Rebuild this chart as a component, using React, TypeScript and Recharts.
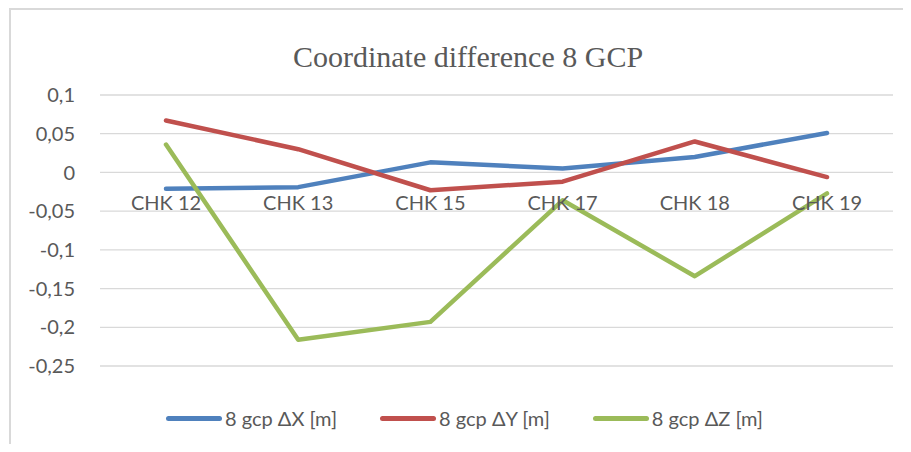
import React from 'react';
import {
  LineChart,
  Line,
  XAxis,
  YAxis,
  CartesianGrid,
  Legend,
} from 'recharts';

const categories = ['CHK 12', 'CHK 13', 'CHK 15', 'CHK 17', 'CHK 18', 'CHK 19'];
const deltaX = [-0.021, -0.019, 0.013, 0.005, 0.02, 0.051];
const deltaY = [0.067, 0.03, -0.023, -0.012, 0.04, -0.006];
const deltaZ = [0.036, -0.216, -0.193, -0.036, -0.134, -0.027];
const yTicks = [-0.25, -0.2, -0.15, -0.1, -0.05, 0, 0.05, 0.1];

const series = [
  { key: 'dx', name: '8 gcp ΔX [m]', color: '#4F81BD' },
  { key: 'dy', name: '8 gcp ΔY [m]', color: '#C0504D' },
  { key: 'dz', name: '8 gcp ΔZ [m]', color: '#9BBB59' },
];

const data = categories.map((c, i) => ({
  name: c,
  dx: deltaX[i],
  dy: deltaY[i],
  dz: deltaZ[i],
}));

const W = 911;
const H = 452;
const TOP = 95;
const PLOT_H = 271;
const Y_MIN = -0.25;
const Y_MAX = 0.1;
const zeroY = TOP + (PLOT_H * Y_MAX) / (Y_MAX - Y_MIN);

const font = 'Lato, "Open Sans", sans-serif';
const grey = '#595959';

// category labels sit just under the zero line, like Excel's "next to axis"
const CategoryTick = (props: any) => {
  const { x, payload } = props;
  return (
    <text x={x} y={zeroY + 38} textAnchor="middle" fill={grey} fontSize={20} fontFamily={font}>
      {payload.value}
    </text>
  );
};

const LegendContent = () => (
  <div style={{ display: 'flex', gap: 43, fontFamily: font, fontSize: 20, color: grey }}>
    {series.map((s) => (
      <div key={s.key} style={{ display: 'flex', alignItems: 'center' }}>
        <span
          style={{
            display: 'inline-block',
            width: 56,
            height: 5,
            borderRadius: 3,
            background: s.color,
            marginRight: 3,
          }}
        />
        <span>{s.name}</span>
      </div>
    ))}
  </div>
);

export default function App() {
  return (
    <div
      style={{
        position: 'relative',
        margin: -8,
        width: W,
        height: H,
        overflow: 'hidden',
        background: '#fff',
      }}
    >
      <div
        style={{
          position: 'absolute',
          left: 9,
          top: 8,
          right: 0,
          bottom: 0,
          borderLeft: '2px solid #d9d9d9',
          borderTop: '2px solid #d9d9d9',
        }}
      />
      <div
        style={{
          position: 'absolute',
          top: 57,
          left: 0,
          width: 936,
          textAlign: 'center',
          fontFamily: '"Liberation Serif", "Times New Roman", serif',
          fontSize: 30,
          color: grey,
          lineHeight: 0,
        }}
      >
        Coordinate difference 8 GCP
      </div>
      <LineChart
        width={W}
        height={H}
        data={data}
        margin={{ top: TOP, right: 18, left: 10, bottom: 56 }}
        style={{ position: 'absolute', left: 0, top: 0 }}
      >
        <CartesianGrid vertical={false} stroke="#d9d9d9" strokeWidth={1.3} />
        <XAxis
          dataKey="name"
          height={30}
          axisLine={false}
          tickLine={false}
          tick={<CategoryTick />}
          interval={0}
          padding={{ left: 66, right: 66 }}
        />
        <YAxis
          width={90}
          domain={[Y_MIN, Y_MAX]}
          ticks={yTicks}
          axisLine={false}
          tickLine={false}
          tickSize={0}
          tickMargin={25}
          tick={{ fill: grey, fontSize: 20, fontFamily: font }}
          tickFormatter={(v: number) => String(v).replace('.', ',')}
        />
        <Legend
          verticalAlign="middle"
          align="center"
          content={<LegendContent />}
          wrapperStyle={{ position: 'absolute', top: 406, left: 166, width: 'auto' }}
        />
        {series.map((s) => (
          <Line
            key={s.key}
            type="linear"
            dataKey={s.key}
            name={s.name}
            stroke={s.color}
            strokeWidth={4.5}
            strokeLinecap="round"
            strokeLinejoin="round"
            dot={false}
            isAnimationActive={false}
          />
        ))}
      </LineChart>
    </div>
  );
}
